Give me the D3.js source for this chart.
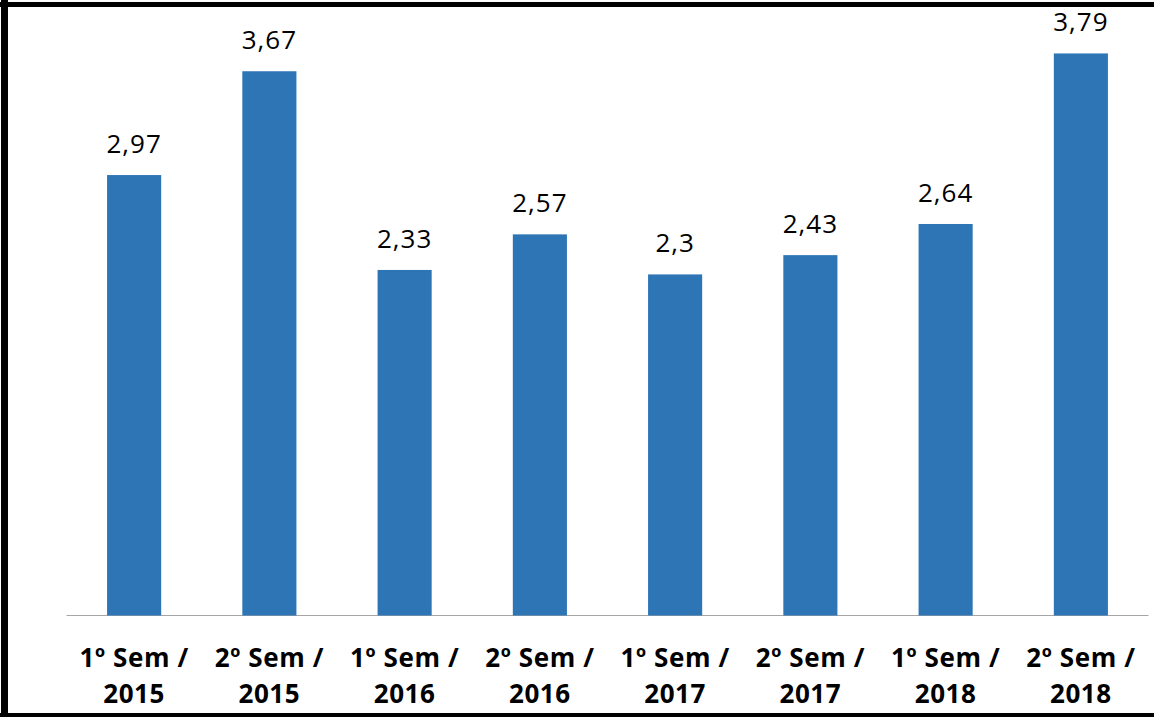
<!DOCTYPE html>
<html>
<head>
<meta charset="utf-8">
<script src="https://cdn.jsdelivr.net/npm/d3@7"></script>
<style>
  html, body { margin: 0; padding: 0; background: #fff; }
  svg { display: block; }
</style>
</head>
<body>
<svg id="chart" width="1154" height="717"></svg>
<script>
const categories = ["1º Sem / 2015", "2º Sem / 2015", "1º Sem / 2016", "2º Sem / 2016",
                    "1º Sem / 2017", "2º Sem / 2017", "1º Sem / 2018", "2º Sem / 2018"];
const categoryLines = [["1º Sem /", "2015"], ["2º Sem /", "2015"], ["1º Sem /", "2016"], ["2º Sem /", "2016"],
                       ["1º Sem /", "2017"], ["2º Sem /", "2017"], ["1º Sem /", "2018"], ["2º Sem /", "2018"]];
const values = [2.97, 3.67, 2.33, 2.57, 2.3, 2.43, 2.64, 3.79];
const valueLabels = ["2,97", "3,67", "2,33", "2,57", "2,3", "2,43", "2,64", "3,79"];

const svg = d3.select("#chart");
const W = 1154, H = 717;

const x = d3.scaleBand().domain(categories).range([66.5, 1148.5]).paddingInner(0.6).paddingOuter(0.3);
const y = d3.scaleLinear().domain([0, 4]).range([615.5, 22.3]);

// axis line
svg.append("line")
  .attr("x1", 66.5).attr("x2", 1148.5)
  .attr("y1", 615.5).attr("y2", 615.5)
  .attr("stroke", "#a6a6a6").attr("stroke-width", 1.2);

// bars
svg.selectAll("rect.bar").data(values).enter().append("rect")
  .attr("class", "bar")
  .attr("x", (d, i) => x(categories[i]))
  .attr("width", x.bandwidth())
  .attr("y", d => y(d))
  .attr("height", d => y(0) - y(d))
  .attr("fill", "#2E75B6");

// value labels
svg.selectAll("text.val").data(values).enter().append("text")
  .attr("class", "val")
  .attr("x", (d, i) => x(categories[i]) + x.bandwidth() / 2)
  .attr("y", d => y(d) - 22)
  .attr("text-anchor", "middle")
  .attr("font-family", "'Open Sans', sans-serif")
  .attr("font-size", 26)
  .attr("letter-spacing", 1)
  .attr("fill", "#000")
  .text((d, i) => valueLabels[i]);

// category labels
const cat = svg.selectAll("g.cat").data(categories).enter().append("g")
  .attr("class", "cat")
  .attr("transform", d => `translate(${x(d) + x.bandwidth() / 2},0)`);
cat.each(function(d, i) {
  const g = d3.select(this);
  categoryLines[i].forEach((line, j) => {
    g.append("text")
      .attr("x", 0)
      .attr("y", 667 + j * 36)
      .attr("text-anchor", "middle")
      .attr("font-family", "'Open Sans', sans-serif")
      .attr("font-weight", "bold")
      .attr("font-size", 26)
      .attr("letter-spacing", 0.6)
      .attr("fill", "#000")
      .text(line);
  });
});

// frame
svg.append("line").attr("x1", 0).attr("x2", W).attr("y1", 4.5).attr("y2", 4.5)
  .attr("stroke", "#000").attr("stroke-width", 5);
svg.append("line").attr("x1", 4.5).attr("x2", 4.5).attr("y1", 0).attr("y2", H)
  .attr("stroke", "#000").attr("stroke-width", 7);
svg.append("line").attr("x1", 0).attr("x2", W).attr("y1", 715).attr("y2", 715)
  .attr("stroke", "#000").attr("stroke-width", 4);
</script>
</body>
</html>
